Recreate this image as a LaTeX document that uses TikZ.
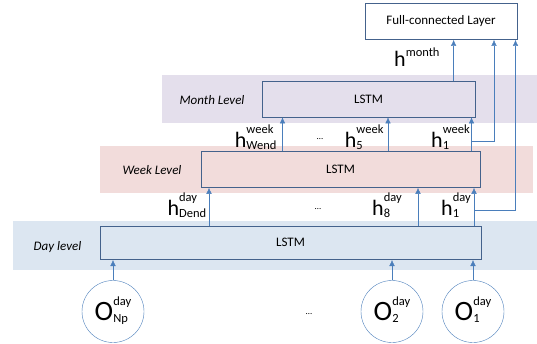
\documentclass[tikz,border=0pt]{standalone}
\usepackage{fontspec}
\setmainfont{Carlito}
\usetikzlibrary{arrows.meta}
\definecolor{monthfill}{RGB}{228,223,236}
\definecolor{weekfill}{RGB}{242,220,219}
\definecolor{dayfill}{RGB}{220,230,241}
\definecolor{boxline}{RGB}{68,98,140}
\definecolor{arrowline}{RGB}{74,126,187}
\newcommand{\hsym}[5][3pt]{{\fontsize{#2}{#2}\selectfont #3}\raisebox{-2pt}{\fontsize{12.5}{12.5}\selectfont\begin{tabular}[b]{@{}l@{}}#4\\[#1]#5\end{tabular}}}
\tikzset{
  band/.style={rectangle, inner sep=0pt},
  box/.style={rectangle, draw=boxline, thick, inner sep=0pt, font=\fontsize{13}{15}\selectfont},
  main/.style={circle, draw=arrowline, thin, fill=white, inner sep=0pt, minimum size=62pt},
  connect/.style={-{Latex[length=6pt,width=5.5pt]}, draw=arrowline, thin},
  lvl/.style={font=\fontsize{13}{15}\selectfont\itshape},
  hlab/.style={anchor=base west, inner sep=0pt},
  dots/.style={font=\fontsize{9}{9}\selectfont}
}
\begin{document}
\begin{tikzpicture}[x=1pt, y=-1pt]
  \useasboundingbox (0,0) rectangle (537,343);
  % level bands
  \node[band, fill=monthfill, minimum width=375.5pt, minimum height=48pt] (monthband) at (349.25,99) {};
  \node[band, fill=weekfill, minimum width=433pt, minimum height=47pt] (weekband) at (316.5,169.5) {};
  \node[band, fill=dayfill, minimum width=524pt, minimum height=48.6pt] (dayband) at (275,245.7) {};
  \node[lvl] at (212,100) {Month Level};
  \node[lvl] at (152,170) {Week Level};
  \node[lvl] at (57.5,247) {Day level};
  % boxes
  \node[box, fill=white, minimum width=152pt, minimum height=36pt] (fc) at (441,21.5) {Full-connected Layer};
  \node[box, minimum width=213pt, minimum height=36pt] (monthlstm) at (368.5,99) {LSTM};
  \node[box, minimum width=279pt, minimum height=36.4pt] (weeklstm) at (340.5,169.2) {LSTM};
  \node[box, minimum width=381pt, minimum height=33.6pt] (daylstm) at (290.5,242.8) {LSTM};
  % inputs
  \foreach \x/\i in {113/Np, 392/2, 473/1} {
    \node[main] (o_{\i}) at (\x,311.5) {\hsym[5pt]{28}{O}{day}{\i}};
    \draw[connect] (o_{\i}) -- (o_{\i} |- daylstm.south);
  }
  \node[dots] (odots) at (309,314) {\dots};
  % day -> week
  \foreach \x/\i in {209/Dend, 418/8, 474/1} {
    \coordinate (d_{\i}) at (\x,0);
    \draw[connect] (d_{\i} |- daylstm.north) -- (d_{\i} |- weeklstm.south);
  }
  \node[hlab] (hd_{Dend}) at (167.4,215) {\hsym{22}{h}{day}{Dend}};
  \node[hlab] (hd_{8}) at (372,215) {\hsym{22}{h}{day}{8}};
  \node[hlab] (hd_{1}) at (441,215) {\hsym{22}{h}{day}{1}};
  \node[dots] (ddots) at (318,209) {\dots};
  % week -> month
  \foreach \x/\i in {282.5/Wend, 388/5, 471.5/1} {
    \coordinate (w_{\i}) at (\x,0);
    \draw[connect] (w_{\i} |- weeklstm.north) -- (w_{\i} |- monthlstm.south);
  }
  \node[hlab] (hw_{Wend}) at (234.7,147) {\hsym{22}{h}{week}{Wend}};
  \node[hlab] (hw_{5}) at (344.7,147) {\hsym{22}{h}{week}{5}};
  \node[hlab] (hw_{1}) at (431,147) {\hsym{22}{h}{week}{1}};
  \node[dots] (wdots) at (320,139) {\dots};
  % month -> full-connected layer
  \coordinate (m) at (453.6,0);
  \draw[connect] (m |- monthlstm.north) -- (m |- fc.south);
  \node[hlab] (hm) at (394,66.3) {{\fontsize{22}{22}\selectfont h}\raisebox{9.5pt}{\fontsize{12.5}{12.5}\selectfont month}};
  % skip connections
  \coordinate (wskip) at (494,141.6);
  \coordinate (dskip) at (515.5,210.4);
  \draw[connect] (w_{1} |- wskip) -- (wskip) -- (wskip |- fc.south);
  \draw[connect] (d_{1} |- dskip) -- (dskip) -- (dskip |- fc.south);
\end{tikzpicture}
\end{document}
